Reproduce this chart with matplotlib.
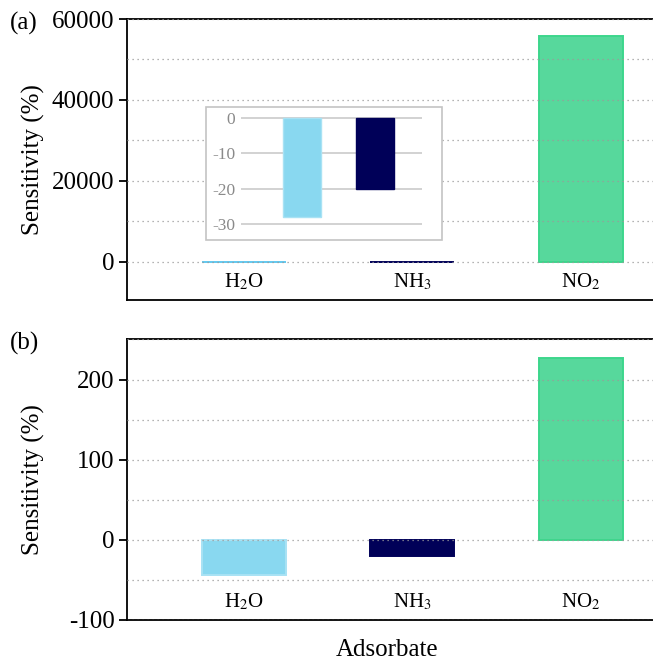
import matplotlib
matplotlib.use("Agg")
import matplotlib.pyplot as plt
from matplotlib.ticker import MultipleLocator
from matplotlib.patches import Rectangle
from matplotlib.transforms import blended_transform_factory

plt.rcParams['font.family'] = ['Liberation Serif', 'DejaVu Serif']
plt.rcParams['mathtext.fontset'] = 'stix'
plt.rcParams['axes.unicode_minus'] = False

# data
adsorbates = ['H$_2$O', 'NH$_3$', 'NO$_2$']
sens_a = [-28, -20, 55900]
sens_a_inset = [-28, -20]
sens_b = [-43.5, -20.7, 227]
colors = ['#89D8F0', '#000058', '#57D89C']
edges_a = ['#62C9F0', '#000058', '#3DD68C']
edges_b = ['#A8E2F4', '#000058', '#3DD68C']

W, H = 653, 662
fig = plt.figure(figsize=(W / 100, H / 100), dpi=100)


def frac(x0, y0, x1, y1):
    # pixel box -> figure fraction
    return [x0 / W, 1 - y1 / H, (x1 - x0) / W, (y1 - y0) / H]


def style_main(ax, vals, edges, ylim, major, minor):
    x = list(range(len(adsorbates)))
    ax.bar(x, vals, width=0.5, color=colors, edgecolor=edges, linewidth=1.4, zorder=2)
    ax.set_xlim(-0.696, 2.43)
    ax.set_ylim(*ylim)
    ax.yaxis.set_major_locator(MultipleLocator(major))
    ax.yaxis.set_minor_locator(MultipleLocator(minor))
    ax.grid(True, which='both', axis='y', color='#9a9a9a', linestyle=(0, (1, 3)), linewidth=0.9, zorder=3)
    ax.set_axisbelow(False)
    ax.spines['right'].set_visible(False)
    for s in ['left', 'top', 'bottom']:
        ax.spines[s].set_linewidth(1.3)
    ax.set_xticks([])
    ax.tick_params(axis='y', which='major', labelsize=18, length=6, width=1.3, direction='out', pad=3)
    ax.tick_params(axis='y', which='minor', length=0)
    tr = blended_transform_factory(ax.transData, ax.transAxes)
    for i, lab in enumerate(adsorbates):
        ax.text(i, 0.065, lab, transform=tr, ha='center', va='center', fontsize=15)


# panel (a)
ax1 = fig.add_axes(frac(127, 19, 653, 300))
style_main(ax1, sens_a, edges_a, (-9400, 60000), 20000, 10000)

# panel (b)
ax2 = fig.add_axes(frac(127, 339, 653, 620))
style_main(ax2, sens_b, edges_b, (-100, 250.6), 100, 50)

# inset box for panel (a)
box = Rectangle((206 / W, 1 - 240 / H), 236 / W, 133 / H, transform=fig.transFigure,
                facecolor='white', edgecolor='#c4c4c4', linewidth=1.2, zorder=5)
fig.add_artist(box)

axin = fig.add_axes(frac(241, 110, 422, 236))
axin.set_zorder(6)
axin.patch.set_alpha(0)
axin.bar([0, 1], sens_a_inset, width=0.51, color=colors[:2], edgecolor=edges_b[:2],
         linewidth=1.0, zorder=2)
axin.set_xlim(-0.836, 1.644)
axin.set_ylim(-33.4, 2.26)
axin.set_yticks([0, -10, -20, -30])
axin.set_xticks([])
axin.grid(True, axis='y', color='#d2d2d2', linewidth=1.4, zorder=1)
axin.set_axisbelow(True)
for s in axin.spines.values():
    s.set_visible(False)
axin.tick_params(axis='y', length=0, labelsize=12.5, labelcolor='#8a8a8a', pad=4)

# labels
fig.text(10 / W, 1 - 23 / H, '(a)', fontsize=18, ha='left', va='center')
fig.text(10 / W, 1 - 343 / H, '(b)', fontsize=18, ha='left', va='center')
fig.text(33 / W, 1 - 160 / H, 'Sensitivity (%)', rotation=90, fontsize=18, ha='center', va='center')
fig.text(33 / W, 1 - 480 / H, 'Sensitivity (%)', rotation=90, fontsize=18, ha='center', va='center')
fig.text(387 / W, 1 - 650 / H, 'Adsorbate', fontsize=18, ha='center', va='center')

fig.savefig('out.png', dpi=100)
